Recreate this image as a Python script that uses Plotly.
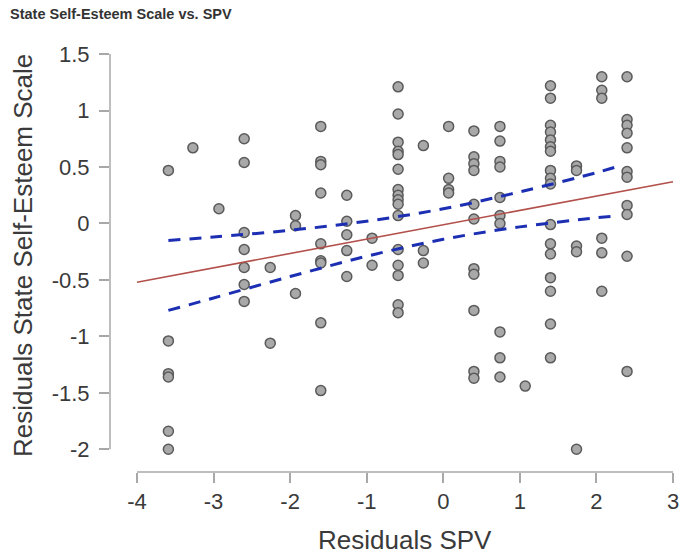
import plotly.graph_objects as go

# Residual scatter: SPV residuals take a small set of discrete values (x);
# each one has its own list of State Self-Esteem Scale residuals (y).
spv_levels = [-3.59, -3.27, -2.93, -2.60, -2.26, -1.93, -1.60, -1.26, -0.93,
              -0.59, -0.26, 0.07, 0.40, 0.74, 1.07, 1.40, 1.74, 2.07, 2.40]
sse_by_level = [
    [0.47, -1.04, -1.33, -1.36, -1.84, -2.00],
    [0.67],
    [0.13],
    [0.75, 0.54, -0.08, -0.23, -0.39, -0.54, -0.69],
    [-0.39, -1.06],
    [0.07, -0.02, -0.62],
    [0.86, 0.55, 0.52, 0.27, -0.18, -0.33, -0.35, -0.88, -1.48],
    [0.25, 0.02, -0.10, -0.24, -0.47],
    [-0.13, -0.37],
    [1.21, 0.97, 0.72, 0.64, 0.61, 0.48, 0.30, 0.25, 0.21, 0.17, 0.07,
     -0.23, -0.37, -0.46, -0.72, -0.79],
    [0.69, -0.24, -0.35],
    [0.86, 0.40, 0.30, 0.27],
    [0.82, 0.59, 0.53, 0.47, 0.17, 0.04, -0.40, -0.45, -0.77, -1.31, -1.37],
    [0.86, 0.73, 0.55, 0.50, 0.23, 0.07, 0.00, -0.96, -1.19, -1.36],
    [-1.44],
    [1.22, 1.11, 0.87, 0.81, 0.74, 0.68, 0.64, 0.47, 0.40, 0.35,
     -0.01, -0.18, -0.27, -0.48, -0.60, -0.89, -1.19],
    [0.51, 0.47, -0.20, -0.25, -2.00],
    [1.30, 1.18, 1.11, -0.13, -0.26, -0.60],
    [1.30, 0.92, 0.87, 0.80, 0.67, 0.46, 0.41, 0.16, 0.08, -0.29, -1.31],
]

# Fitted regression line
fit_x = [-4.0, 3.0]
fit_y = [-0.52, 0.37]

# 95% confidence band around the fit
ci_x = [-3.59, -3.0, -2.0, -1.0, 0.0, 1.0, 2.0, 2.30]
ci_upper = [-0.15, -0.12, -0.06, 0.02, 0.13, 0.28, 0.45, 0.51]
ci_lower = [-0.77, -0.66, -0.47, -0.29, -0.14, -0.03, 0.05, 0.07]

x_ticks = [-4, -3, -2, -1, 0, 1, 2, 3]
y_ticks = [-2, -1.5, -1, -0.5, 0, 0.5, 1, 1.5]

spv_resid = [x for x, ys in zip(spv_levels, sse_by_level) for _ in ys]
sse_resid = [y for ys in sse_by_level for y in ys]

FONT = "Liberation Sans, Arial, sans-serif"
AXIS_GREY = "#a8a8a8"
TEXT = "#3a3a3a"

fig = go.Figure()

fig.add_trace(go.Scatter(
    x=spv_resid, y=sse_resid, mode="markers",
    marker=dict(size=10, color="#a9a9a9",
                line=dict(color="#5a5a5a", width=1.5)),
    cliponaxis=False, showlegend=False, hoverinfo="x+y",
))

fig.add_trace(go.Scatter(
    x=fit_x, y=fit_y, mode="lines",
    line=dict(color="#b3504b", width=1.6),
    showlegend=False,
))

for band in (ci_upper, ci_lower):
    fig.add_trace(go.Scatter(
        x=ci_x, y=band, mode="lines",
        line=dict(color="#1c2fb3", width=3, dash="12px,9px", shape="spline"),
        showlegend=False,
    ))

# Axis lines that span only the tick range
fig.add_shape(type="line", xref="x", yref="paper",
              x0=x_ticks[0], x1=x_ticks[-1], y0=0, y1=0,
              line=dict(color=AXIS_GREY, width=1.5))
fig.add_shape(type="line", xref="paper", yref="y",
              x0=0, x1=0, y0=y_ticks[0], y1=y_ticks[-1],
              line=dict(color=AXIS_GREY, width=1.5))

fig.add_annotation(
    text="<b>State Self-Esteem Scale vs. SPV</b>",
    xref="paper", yref="paper", x=-0.179, y=1.060,
    xanchor="left", yanchor="middle", showarrow=False,
    font=dict(family=FONT, size=14.5, color="#333333"),
)
fig.add_annotation(
    text="Residuals State Self-Esteem Scale",
    xref="paper", yref="paper", x=-0.153, y=0.502,
    xanchor="center", yanchor="middle", textangle=-90, showarrow=False,
    font=dict(family=FONT, size=26, color=TEXT),
)
fig.add_annotation(
    text="Residuals SPV",
    xref="paper", yref="paper", x=0.5175, y=-0.157,
    xanchor="center", yanchor="middle", showarrow=False,
    font=dict(family=FONT, size=26, color=TEXT),
)

fig.update_layout(
    width=681, height=556,
    margin=dict(l=110, r=1, t=40, b=84),
    paper_bgcolor="white", plot_bgcolor="white",
    font=dict(family=FONT, color=TEXT),
    xaxis=dict(
        range=[-4.3525, 3.0914], tickmode="array", tickvals=x_ticks,
        ticktext=[str(v) for v in x_ticks],
        ticks="outside", ticklen=10, tickwidth=1.5, tickcolor=AXIS_GREY,
        showline=False, showgrid=False, zeroline=False,
        tickfont=dict(family=FONT, size=22, color=TEXT),
    ),
    yaxis=dict(
        range=[-2.201, 1.625], tickmode="array", tickvals=y_ticks,
        ticktext=["-2", "-1.5", "-1", "-0.5", "0", "0.5", "1", "1.5"],
        ticks="outside", ticklen=10, tickwidth=1.5, tickcolor=AXIS_GREY,
        ticklabelstandoff=5,
        showline=False, showgrid=False, zeroline=False,
        tickfont=dict(family=FONT, size=22, color=TEXT),
    ),
)

fig.write_html("out.html")
